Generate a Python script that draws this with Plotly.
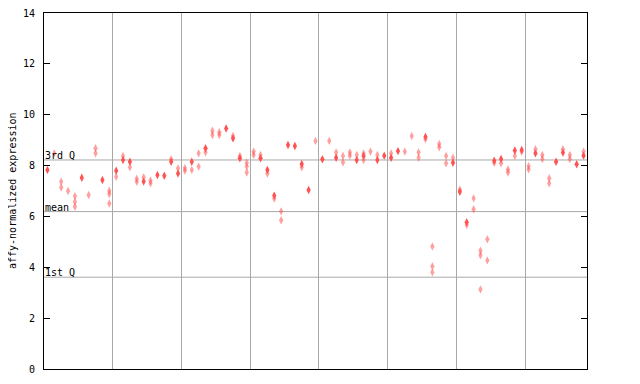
import plotly.graph_objects as go

# ---- data ----
solid_idx = [0, 5, 8, 10, 11, 12, 14, 16, 17, 18, 19, 21, 23, 26, 27, 28, 31, 32, 33, 35,
             36, 37, 38, 40, 42, 45, 46, 48, 49, 50, 51, 55, 59, 60, 61, 65, 66, 68, 69,
             71, 74, 75, 77, 78]
solid_val = [7.83, 7.52, 7.43, 7.80, 8.22, 8.15, 7.37, 7.63, 7.60, 8.15, 7.69, 8.15, 8.68,
             9.46, 9.07, 8.29, 8.29, 7.83, 6.82, 8.81, 8.77, 8.06, 7.04, 8.25, 8.31, 8.22,
             8.38, 8.22, 8.39, 8.31, 8.57, 9.13, 8.11, 6.97, 5.77, 8.19, 8.26, 8.59, 8.61,
             8.48, 8.15, 8.51, 8.05, 8.39]

rep_values = {
    1: [8.48], 2: [7.37, 7.14], 3: [7.00], 4: [6.80, 6.58, 6.38], 6: [6.84],
    7: [8.68, 8.48], 9: [7.01, 6.88, 6.51], 10: [7.56], 11: [8.38], 12: [7.93],
    13: [7.48, 7.36], 14: [7.54], 15: [7.41, 7.30], 18: [8.25], 19: [7.89],
    20: [7.90, 7.80], 21: [7.83], 22: [8.48, 7.96], 23: [8.52], 24: [9.37, 9.20],
    25: [9.31, 9.20], 27: [9.16], 28: [8.38], 29: [8.11, 7.96, 7.73], 30: [8.55, 8.42],
    31: [8.42], 32: [7.69], 33: [6.70], 34: [6.20, 5.85], 37: [7.93], 39: [8.97],
    41: [8.97], 42: [8.52], 43: [8.38, 8.13], 44: [8.52, 8.39], 45: [8.42],
    46: [8.48, 8.22], 47: [8.55], 48: [8.42], 50: [8.48], 52: [8.55], 53: [9.16],
    54: [8.52, 8.31], 55: [9.04], 56: [4.82, 4.04, 3.80], 57: [8.85, 8.72],
    58: [8.38, 8.09], 59: [8.31], 60: [7.05], 61: [5.66], 62: [6.71, 6.28],
    63: [4.65, 4.47, 3.13], 64: [5.10, 4.27], 65: [8.11], 66: [8.09], 67: [7.85, 7.73],
    68: [8.38], 69: [8.55], 70: [7.98, 7.85], 71: [8.64], 72: [8.42, 8.26],
    73: [7.50, 7.30], 75: [8.64], 76: [8.42, 8.26], 78: [8.55],
}

n_samples = 79
group_bounds = [9.5, 19.5, 29.5, 39.5, 49.5, 59.5, 69.5]
stat_names = ["3rd Q", "mean", "1st Q"]
stat_values = [8.22, 6.19, 3.61]
y_ticks = [0, 2, 4, 6, 8, 10, 12, 14]
y_title = "affy-normalized expression"

rep_x, rep_y = [], []
for k, vals in rep_values.items():
    for v in vals:
        rep_x.append(k)
        rep_y.append(v)

RED = "#ff5252"
MONO = "DejaVu Sans Mono"
FONT = dict(family=MONO, size=10, color="black")

fig = go.Figure()
fig.add_trace(go.Scatter(
    x=rep_x, y=rep_y, mode="markers",
    marker=dict(symbol="diamond-tall", size=6, color="rgba(255,82,82,0.55)",
                line=dict(width=0)),
    showlegend=False, hoverinfo="skip"))
fig.add_trace(go.Scatter(
    x=solid_idx, y=solid_val, mode="markers",
    marker=dict(symbol="diamond-tall", size=6, color=RED, line=dict(width=0)),
    showlegend=False, hoverinfo="skip"))

# statistic lines and their labels
for name, v in zip(stat_names, stat_values):
    fig.add_shape(type="line", xref="paper", yref="y", x0=0, x1=1, y0=v, y1=v,
                  line=dict(color="#a8a8a8", width=1), layer="below")
    fig.add_annotation(xref="paper", yref="y", x=0, y=v, text=name, showarrow=False,
                       xanchor="left", yanchor="bottom", xshift=0, yshift=-2,
                       borderpad=0, font=FONT)

# y tick labels
for t in y_ticks:
    fig.add_annotation(xref="paper", yref="y", x=0, y=t, text=str(t), showarrow=False,
                       xanchor="right", yanchor="middle", xshift=-8, borderpad=0,
                       font=FONT)

# y axis title
fig.add_annotation(xref="paper", yref="paper", x=0, y=0.5, text=y_title,
                   showarrow=False, textangle=-90, xanchor="center", yanchor="middle",
                   xshift=-32, font=FONT)

# page body has an 8px margin: figure is sized/margined so the plot box lands at
# x 44..587, y 13..369 in the 640x384 window
fig.update_layout(
    width=632, height=376,
    margin=dict(l=36, r=53, t=5, b=15, autoexpand=False),
    paper_bgcolor="white", plot_bgcolor="white",
    hovermode=False,
    xaxis=dict(range=[-0.5, n_samples - 0.5], tickvals=group_bounds,
               showticklabels=False, ticks="", showgrid=True, gridcolor="#a8a8a8",
               gridwidth=1, zeroline=False, showline=True, linecolor="black",
               linewidth=1, mirror=True, automargin=False),
    yaxis=dict(range=[0, 14], tickvals=y_ticks, showticklabels=False,
               ticks="inside", ticklen=6,
               tickcolor="black", showgrid=False, zeroline=False, showline=True,
               linecolor="black", linewidth=1, mirror="ticks", automargin=False),
    font=FONT,
)

fig.write_html("out.html", config={"displayModeBar": False})
